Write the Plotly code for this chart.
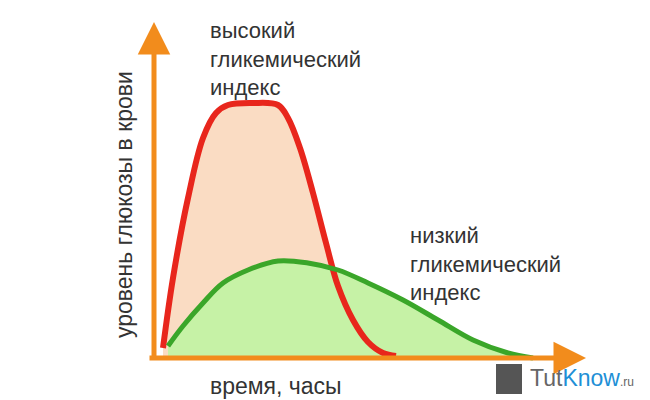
import plotly.graph_objects as go

# curve points (x = time, y = glucose level) in chart units
high_x = [155, 165, 180, 195, 208, 220, 245, 270, 280, 292, 305, 318, 330, 345, 360, 375, 388]
high_y = [60, 130, 210, 270, 295, 303, 305, 303, 290, 260, 215, 165, 122, 88, 66, 55, 52]
low_x = [160, 175, 195, 215, 240, 270, 300, 330, 360, 395, 430, 465, 500, 525]
low_y = [62, 82, 105, 125, 138, 147, 145, 138, 125, 108, 88, 68, 55, 50]
base = 50

fig = go.Figure()
fig.add_trace(go.Scatter(x=high_x + [high_x[-1], high_x[0]], y=high_y + [base, base], fill='toself',
                         fillcolor='#fadcc3', line=dict(width=0), mode='lines', hoverinfo='skip'))
fig.add_trace(go.Scatter(x=low_x + [low_x[-1], low_x[0]], y=low_y + [base, base], fill='toself',
                         fillcolor='#c6f2a6', line=dict(width=0), mode='lines', hoverinfo='skip'))
fig.add_trace(go.Scatter(x=high_x, y=high_y, mode='lines', line=dict(color='#e8261c', width=6, shape='spline')))
fig.add_trace(go.Scatter(x=low_x, y=low_y, mode='lines', line=dict(color='#3aa629', width=5, shape='spline')))

orange = '#f28c1c'
fig.add_annotation(x=146, y=386, ax=146, ay=48, xref='x', yref='y', axref='x', ayref='y',
                   showarrow=True, arrowhead=2, arrowsize=1.3, arrowwidth=5, arrowcolor=orange, text='')
fig.add_annotation(x=578, y=50, ax=140, ay=50, xref='x', yref='y', axref='x', ayref='y',
                   showarrow=True, arrowhead=2, arrowsize=1.3, arrowwidth=5, arrowcolor=orange, text='')

f = dict(family='Liberation Sans, Arial', size=22, color='#333333')
fa = dict(family='Liberation Sans, Arial', size=23, color='#333333')
fig.add_annotation(x=200, y=392, text='высокий<br>гликемический<br>индекс', showarrow=False,
                   xanchor='left', yanchor='top', align='left', font=f)
fig.add_annotation(x=400, y=187, text='низкий<br>гликемический<br>индекс', showarrow=False,
                   xanchor='left', yanchor='top', align='left', font=f)
fig.add_annotation(x=116, y=203, text='уровень глюкозы в крови', textangle=-90, showarrow=False, font=fa)
fig.add_annotation(x=268, y=22, text='время, часы', showarrow=False, font=fa, yanchor='middle')
fig.add_annotation(x=520, y=30, text="<span style='color:#666'>Tut</span><span style='color:#1e8fd6'>Know</span><span style='font-size:12px;color:#666'>.ru</span>",
                   showarrow=False, xanchor='left', font=dict(family='Liberation Sans, Arial', size=23))
fig.add_shape(type='rect', x0=488, x1=514, y0=14, y1=44, fillcolor='#555', line=dict(width=0),
              xref='x', yref='y')

fig.update_layout(width=650, height=400, margin=dict(l=0, r=0, t=0, b=0), showlegend=False,
                  plot_bgcolor='white', paper_bgcolor='white',
                  xaxis=dict(range=[0, 650], visible=False, fixedrange=True),
                  yaxis=dict(range=[0, 400], visible=False, fixedrange=True))
fig.write_html('out.html')
